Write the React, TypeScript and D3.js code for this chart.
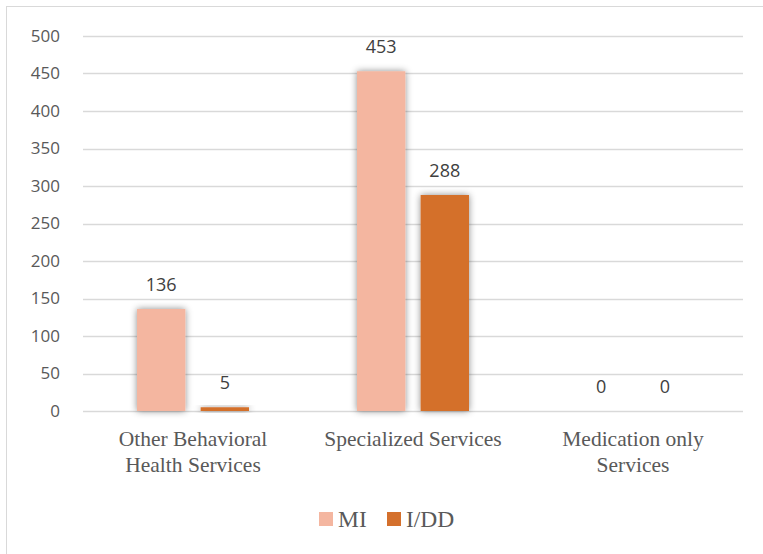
import React, { useEffect, useRef } from "react";
import * as d3 from "d3";

const categories = [
  ["Other Behavioral", "Health Services"],
  ["Specialized Services"],
  ["Medication only", "Services"],
];
const seriesNames = ["MI", "I/DD"];
const miValues = [136, 453, 0];
const iddValues = [5, 288, 0];
const yTicks = [0, 50, 100, 150, 200, 250, 300, 350, 400, 450, 500];
const colors = ["#f4b6a0", "#d4702c"];

const W = 763;
const H = 554;

export default function App() {
  const ref = useRef<SVGSVGElement | null>(null);

  useEffect(() => {
    const svg = d3.select(ref.current);
    svg.selectAll("*").remove();

    const margin = { top: 36, left: 83, right: 20, bottom: 143 };
    const innerW = 743 - margin.left;
    const innerH = 411 - margin.top;

    const defs = svg.append("defs");
    const f = defs
      .append("filter")
      .attr("id", "glow")
      .attr("x", "-40%")
      .attr("y", "-40%")
      .attr("width", "180%")
      .attr("height", "180%");
    f.append("feDropShadow")
      .attr("dx", 0)
      .attr("dy", 0)
      .attr("stdDeviation", 3.5)
      .attr("flood-color", "#000")
      .attr("flood-opacity", 0.45);

    // outer frame
    svg
      .append("rect")
      .attr("x", 6.5)
      .attr("y", 6.5)
      .attr("width", W + 20)
      .attr("height", H + 20)
      .attr("fill", "#fff")
      .attr("stroke", "#d9d9d9")
      .attr("stroke-width", 1);

    const g = svg
      .append("g")
      .attr("transform", `translate(${margin.left},${margin.top})`);

    const x0 = d3
      .scaleBand<number>()
      .domain(categories.map((_, i) => i))
      .range([0, innerW]);
    const x1 = d3
      .scaleBand<number>()
      .domain([0, 1])
      .range([54, 166])
      .paddingInner(0.24);
    const y = d3.scaleLinear().domain([0, 500]).range([innerH, 0]);

    // gridlines
    g.selectAll(".grid")
      .data(yTicks)
      .enter()
      .append("line")
      .attr("x1", 0)
      .attr("x2", innerW)
      .attr("y1", (d) => Math.round(y(d)) + 0.5)
      .attr("y2", (d) => Math.round(y(d)) + 0.5)
      .attr("stroke", "#d9d9d9")
      .attr("stroke-width", 1.3);

    // y tick labels
    g.selectAll(".ytick")
      .data(yTicks)
      .enter()
      .append("text")
      .attr("x", -23)
      .attr("y", (d) => y(d))
      .attr("dy", "0.35em")
      .attr("text-anchor", "end")
      .style("font-family", "'Open Sans', sans-serif")
      .style("font-size", "17px")
      .attr("fill", "#595959")
      .text((d) => d);

    const data = categories.map((_, i) => [miValues[i], iddValues[i]]);

    const groups = g
      .selectAll(".grp")
      .data(data)
      .enter()
      .append("g")
      .attr("transform", (_, i) => `translate(${x0(i)},0)`);

    groups
      .selectAll("rect")
      .data((d) => d)
      .enter()
      .append("rect")
      .attr("x", (_, j) => x1(j)!)
      .attr("width", x1.bandwidth())
      .attr("y", (d) => y(d))
      .attr("height", (d) => innerH - y(d))
      .attr("fill", (_, j) => colors[j])
      .attr("filter", (d) => (d > 0 ? "url(#glow)" : null));

    groups
      .selectAll("text")
      .data((d) => d)
      .enter()
      .append("text")
      .attr("x", (_, j) => x1(j)! + x1.bandwidth() / 2)
      .attr("y", (d) => y(d) - 18)
      .attr("text-anchor", "middle")
      .style("font-family", "'Open Sans', sans-serif")
      .style("font-size", "18px")
      .attr("fill", "#404040")
      .text((d) => d);

    // category labels
    const cat = g
      .selectAll(".cat")
      .data(categories)
      .enter()
      .append("text")
      .attr("text-anchor", "middle")
      .style("font-family", "'Liberation Serif', serif")
      .style("font-size", "21.5px")
      .attr("fill", "#595959");
    cat
      .selectAll("tspan")
      .data((d) => d)
      .enter()
      .append("tspan")
      .attr("x", function () {
        const parent = (this as SVGTSpanElement).parentNode as SVGTextElement;
        const i = categories.indexOf(d3.select(parent).datum() as string[]);
        return x0(i)! + x0.bandwidth() / 2;
      })
      .attr("y", (_, k) => innerH + 35 + k * 26)
      .text((d) => d);

    // legend
    const legend = svg.append("g").attr("transform", "translate(319,512)");
    const legendX = [0, 68];
    seriesNames.forEach((name, i) => {
      legend
        .append("rect")
        .attr("x", legendX[i])
        .attr("y", 0)
        .attr("width", 14)
        .attr("height", 14)
        .attr("fill", colors[i]);
      legend
        .append("text")
        .attr("x", legendX[i] + 19)
        .attr("y", 15)
        .style("font-family", "'Liberation Serif', serif")
        .style("font-size", "23.5px")
        .attr("fill", "#595959")
        .text(name);
    });
  }, []);

  return (
    <svg
      ref={ref}
      width={W}
      height={H}
      style={{ position: "absolute", left: 0, top: 0, background: "#fff" }}
    />
  );
}
